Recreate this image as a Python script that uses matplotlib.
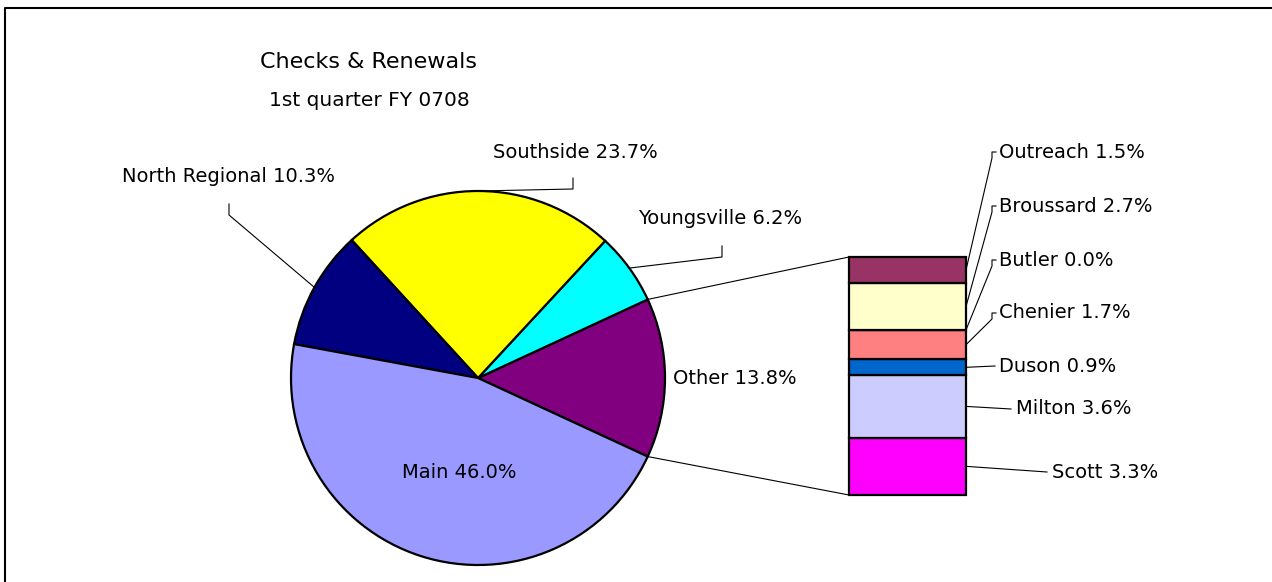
import numpy as np
import matplotlib.pyplot as plt

# pie slices (counter-clockwise, starting with the "Other" slice)
pie_labels = ['Other', 'Youngsville', 'Southside', 'North Regional', 'Main']
pie_values = [13.8, 6.2, 23.7, 10.3, 46.0]
pie_colors = ['#800080', '#00FFFF', '#FFFF00', '#000080', '#9999FF']

# breakdown of "Other" (bottom to top)
sub_labels = ['Scott', 'Milton', 'Duson', 'Chenier', 'Butler', 'Broussard', 'Outreach']
sub_values = [3.3, 3.6, 0.9, 1.7, 0.0, 2.7, 1.5]
sub_colors = ['#FF00FF', '#CCCCFF', '#0066CC', '#FF8080', '#FFFFFF', '#FFFFCC', '#993366']

W, H = 1272, 582
plt.rcParams['font.family'] = ['DejaVu Sans']
FS = 14

fig = plt.figure(figsize=(W / 100, H / 100), dpi=100)
ax = fig.add_axes([0, 0, 1, 1])


def px(x, y):
    # pixel position measured from top-left -> data coords of ax
    return x, H - y


cx, cy = px(478, 378)
R = 187
start = -pie_values[0] / 2 * 3.6
wedges, _ = ax.pie(pie_values, colors=pie_colors, startangle=start,
                   counterclock=True, center=(cx, cy), radius=R,
                   wedgeprops=dict(edgecolor='black', linewidth=1.6))
ax.set_aspect('auto')
ax.set_xlim(0, W)
ax.set_ylim(0, H)
ax.axis('off')


def edge_pt(theta):
    t = np.deg2rad(theta)
    return cx + R * np.cos(t), cy + R * np.sin(t)


# frame (only top and left edges are visible)
ax.plot([5, 5, W + 5], [-5, H - 8, H - 8], color='black', lw=1.5, clip_on=False)

# titles
ax.text(*px(369, 62), 'Checks & Renewals', ha='center', va='center', fontsize=16)
ax.text(*px(369, 100), '1st quarter FY 0708', ha='center', va='center', fontsize=14.5)

# pie labels with leader lines: (label centre, leader top, leader corner)
pie_label_pos = {
    'North Regional': ((228, 177), (229, 204), (229, 215)),
    'Southside': ((575, 153), (573, 178), (573, 189)),
    'Youngsville': ((720, 218), (722, 246), (722, 257)),
}
for w, name, val in zip(wedges, pie_labels, pie_values):
    txt = f'{name} {val:.1f}%'
    mid = (w.theta1 + w.theta2) / 2
    if name in pie_label_pos:
        lab, t1, t2 = pie_label_pos[name]
        ex, ey = edge_pt(mid)
        xs = [ex, px(*t2)[0], px(*t1)[0]]
        ys = [ey, px(*t2)[1], px(*t1)[1]]
        ax.plot(xs, ys, color='black', lw=0.8)
        ax.text(*px(*lab), txt, ha='center', va='center', fontsize=FS)
    elif name == 'Other':
        ax.text(*px(673, 379), txt, ha='left', va='center', fontsize=FS)
    else:
        ax.text(*px(459, 472), txt, ha='center', va='center', fontsize=FS)

# stacked bar for the "Other" breakdown
total = sum(sub_values)
bax = fig.add_axes([849 / W, (H - 495) / H, 117 / W, 238 / H])
bottoms = np.concatenate([[0], np.cumsum(sub_values)[:-1]])
bax.bar(0.5, sub_values, width=1, bottom=bottoms, color=sub_colors,
        edgecolor='black', linewidth=1.6, clip_on=False)
bax.set_xlim(0, 1)
bax.set_ylim(0, total)
bax.axis('off')


def bar_pt(x, y):
    d = bax.transData.transform((x, y))
    return ax.transData.inverted().transform(d)


# connector lines between pie slice and bar
other = wedges[0]
for theta, yb in [(other.theta2, total), (other.theta1, 0)]:
    ex, ey = edge_pt(theta)
    bx, by = bar_pt(0, yb)
    ax.plot([ex, bx], [ey, by], color='black', lw=0.8)

# bar labels: (text left x, text y, leader x, has tick)
sub_label_pos = {
    'Outreach': (999, 152, 992, True),
    'Broussard': (999, 206, 992, True),
    'Butler': (999, 260, 992, True),
    'Chenier': (999, 313, 992, True),
    'Duson': (999, 366, 995, False),
    'Milton': (1016, 409, 1011, False),
    'Scott': (1052, 472, 1047, False),
}
for name, val, b in zip(sub_labels, sub_values, bottoms):
    tx, ty, lx, tick = sub_label_pos[name]
    sx, sy = bar_pt(1, b + val / 2)
    if tick:
        xs = [sx, lx, lx, lx + 4]
        ys = [sy, H - ty - 6, H - ty, H - ty]
    else:
        xs = [sx, lx]
        ys = [sy, H - ty]
    ax.plot(xs, ys, color='black', lw=0.8)
    ax.text(*px(tx, ty), f'{name} {val:.1f}%', ha='left', va='center', fontsize=FS)

fig.savefig('out.png', dpi=100, facecolor='white')
